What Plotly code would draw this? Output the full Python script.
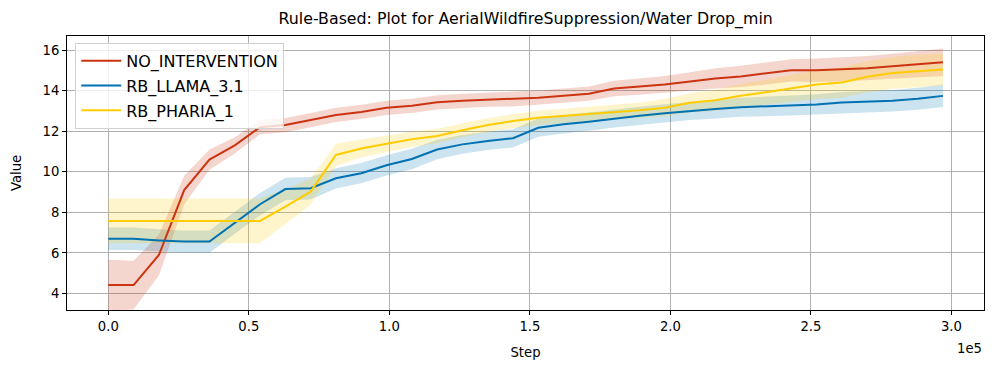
import plotly.graph_objects as go

# steps every 9000 from 0 to 297000
steps = [0, 9000, 18000, 27000, 36000, 45000, 54000, 63000, 72000, 81000,
         90000, 99000, 108000, 117000, 126000, 135000, 144000, 153000, 162000, 171000,
         180000, 189000, 198000, 207000, 216000, 225000, 234000, 243000, 252000, 261000,
         270000, 279000, 288000, 297000]

no_intervention = [4.42, 4.42, 5.9, 9.1, 10.6, 11.3, 12.2, 12.3, 12.55, 12.8,
                   12.95, 13.15, 13.25, 13.42, 13.5, 13.55, 13.57, 13.65, 13.75, 13.85,
                   14.1, 14.2, 14.3, 14.45, 14.6, 14.7, 14.85, 15.0, 15.0, 15.05,
                   15.1, 15.2, 15.3, 15.4]
no_intervention_std = [1.25, 1.2, 1.0, 0.7, 0.5, 0.4, 0.35, 0.35, 0.35, 0.35,
                       0.35, 0.35, 0.35, 0.35, 0.35, 0.35, 0.35, 0.35, 0.35, 0.35,
                       0.38, 0.4, 0.42, 0.45, 0.5, 0.52, 0.55, 0.55, 0.58, 0.6,
                       0.6, 0.62, 0.65, 0.68]

rb_llama = [6.7, 6.7, 6.62, 6.56, 6.56, 7.5, 8.4, 9.15, 9.19, 9.68,
            9.93, 10.32, 10.63, 11.1, 11.35, 11.52, 11.65, 12.17, 12.34, 12.47,
            12.63, 12.76, 12.88, 13.0, 13.09, 13.18, 13.22, 13.27, 13.32, 13.41,
            13.45, 13.5, 13.6, 13.74]
rb_llama_std = [0.55, 0.55, 0.55, 0.55, 0.55, 0.55, 0.55, 0.55, 0.55, 0.5,
                0.5, 0.5, 0.5, 0.48, 0.46, 0.45, 0.45, 0.45, 0.45, 0.45,
                0.45, 0.45, 0.45, 0.45, 0.46, 0.47, 0.48, 0.5, 0.5, 0.52,
                0.52, 0.53, 0.54, 0.55]

rb_pharia = [7.58, 7.58, 7.58, 7.58, 7.58, 7.58, 7.58, 8.28, 9.02, 10.83,
             11.15, 11.38, 11.6, 11.76, 12.05, 12.3, 12.5, 12.66, 12.75, 12.85,
             12.95, 13.03, 13.16, 13.4, 13.53, 13.75, 13.92, 14.1, 14.3, 14.4,
             14.68, 14.87, 14.97, 15.04]
rb_pharia_std = [1.1, 1.1, 1.1, 1.1, 1.1, 1.1, 1.1, 0.85, 0.65, 0.55,
                 0.45, 0.4, 0.38, 0.36, 0.35, 0.35, 0.35, 0.35, 0.35, 0.35,
                 0.35, 0.38, 0.42, 0.47, 0.52, 0.57, 0.62, 0.67, 0.72, 0.75,
                 0.77, 0.78, 0.8, 0.8]

series = [
    ("NO_INTERVENTION", no_intervention, no_intervention_std, "#cc3311", "rgba(204,51,17,0.2)"),
    ("RB_LLAMA_3.1", rb_llama, rb_llama_std, "#0072b2", "rgba(0,114,178,0.2)"),
    ("RB_PHARIA_1", rb_pharia, rb_pharia_std, "#ffcc00", "rgba(255,204,0,0.2)"),
]

FONT = "DejaVu Sans"
TICK = 13.2

fig = go.Figure()

# bands first, lines on top
for name, mean, std, color, fill in series:
    upper = [m + s for m, s in zip(mean, std)]
    lower = [m - s for m, s in zip(mean, std)]
    fig.add_trace(go.Scatter(
        x=steps + steps[::-1], y=upper + lower[::-1],
        fill="toself", fillcolor=fill, line=dict(width=0),
        mode="lines", showlegend=False, hoverinfo="skip"
    ))

for name, mean, std, color, fill in series:
    fig.add_trace(go.Scatter(
        x=steps, y=mean, name=name, mode="lines", legendgroup=name,
        line=dict(color=color, width=2)
    ))

# page body has an 8px margin, so the figure is 8px smaller each way
fig.update_layout(
    width=988, height=364,
    margin=dict(l=59, r=12, t=28, b=62, autoexpand=False),
    paper_bgcolor="white", plot_bgcolor="white",
    font=dict(family=FONT, size=TICK, color="black"),
    title=dict(text="Rule-Based: Plot for AerialWildfireSuppression/Water Drop_min",
               x=0.524, xanchor="center", y=0.972, yanchor="middle",
               font=dict(size=15.8, family=FONT)),
    legend=dict(x=0.009, y=0.975, xanchor="left", yanchor="top",
                bgcolor="rgba(255,255,255,0.8)", bordercolor="#d0d0d0", borderwidth=1,
                tracegroupgap=1, itemwidth=40,
                font=dict(size=16, family=FONT)),
    showlegend=True,
)

fig.update_xaxes(
    range=[-14700, 311600],
    tickvals=[0, 50000, 100000, 150000, 200000, 250000, 300000],
    ticktext=["0.0", "0.5", "1.0", "1.5", "2.0", "2.5", "3.0"],
    showgrid=True, gridcolor="#b0b0b0", gridwidth=1,
    showline=True, linecolor="black", linewidth=1, mirror=True,
    ticks="outside", ticklen=4, tickcolor="black",
    zeroline=False, automargin=False,
    title=dict(text="Step", standoff=14, font=dict(size=TICK)),
)
fig.update_yaxes(
    range=[3.19, 16.69],
    tickvals=[4, 6, 8, 10, 12, 14, 16],
    showgrid=True, gridcolor="#b0b0b0", gridwidth=1,
    showline=True, linecolor="black", linewidth=1, mirror=True,
    ticks="outside", ticklen=4, tickcolor="black",
    zeroline=False, automargin=False,
    title=dict(text="Value", standoff=17, font=dict(size=TICK)),
)

fig.add_annotation(
    text="1e5", xref="paper", yref="paper", x=1.0, y=-0.139,
    xanchor="right", yanchor="middle", showarrow=False,
    font=dict(size=TICK, family=FONT)
)

fig.write_html("out.html")
